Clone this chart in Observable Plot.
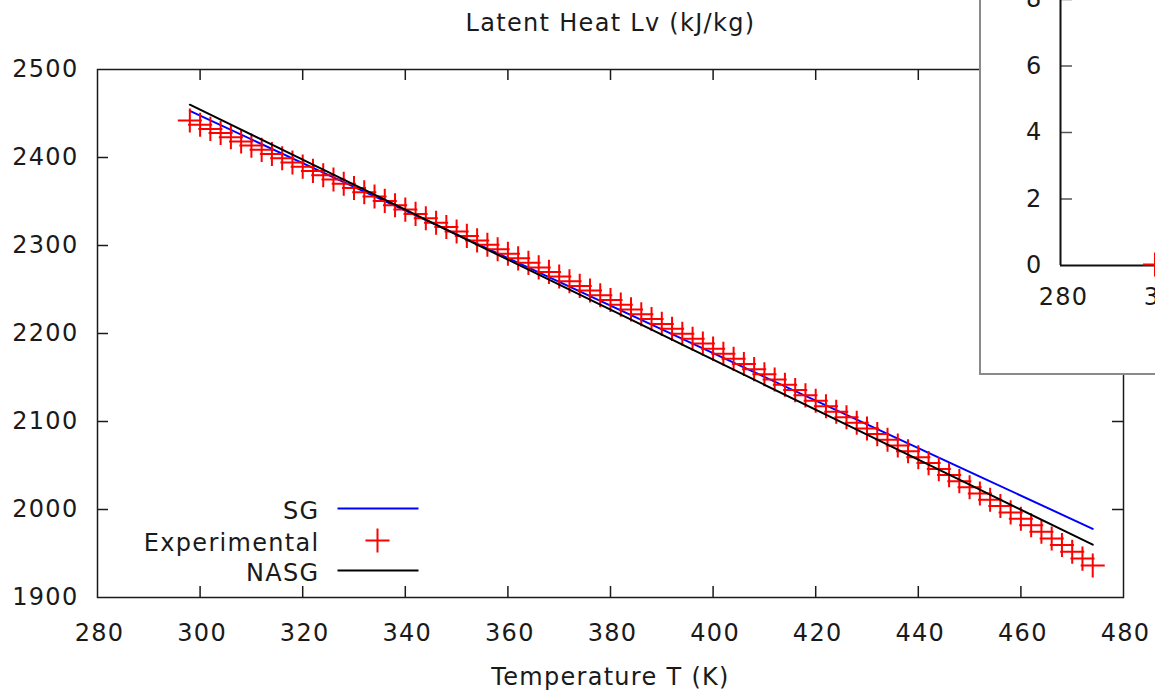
<!DOCTYPE html>
<html><head><meta charset="utf-8">
<script src="https://cdn.jsdelivr.net/npm/d3@7"></script>
<script src="https://cdn.jsdelivr.net/npm/@observablehq/plot@0.6"></script>
<style>
html,body{margin:0;padding:0;overflow:hidden;background:#fff;width:1155px;height:690px;}
#main{position:absolute;left:0;top:0;}
#inset{position:absolute;left:979px;top:-200px;width:400px;height:575px;box-sizing:border-box;border:2px solid #8a8a8a;background:#fff;}
</style></head><body>
<div id="main"></div><div id="inset"></div>
<script>
// ---- data ----
const temps = [298,300,302,304,306,308,310,312,314,316,318,320,322,324,326,328,330,332,334,336,338,340,342,344,346,348,350,352,354,356,358,360,362,364,366,368,370,372,374,376,378,380,382,384,386,388,390,392,394,396,398,400,402,404,406,408,410,412,414,416,418,420,422,424,426,428,430,432,434,436,438,440,442,444,446,448,450,452,454,456,458,460,462,464,466,468,470,472,474];
const experimental = [2442.1,2437.3,2432.5,2427.8,2423.0,2418.3,2413.5,2408.7,2404.0,2399.2,2394.4,2389.6,2384.8,2379.9,2375.0,2370.2,2365.3,2360.5,2355.6,2350.7,2345.8,2340.8,2335.9,2330.9,2325.9,2321.0,2315.9,2310.9,2305.8,2300.8,2295.7,2290.6,2285.4,2280.3,2275.1,2270.0,2264.7,2259.4,2254.1,2248.8,2243.5,2238.1,2232.8,2227.4,2221.9,2216.4,2210.9,2205.3,2199.7,2194.1,2188.5,2182.8,2177.0,2171.2,2165.4,2159.5,2153.6,2147.7,2141.7,2135.7,2129.7,2123.5,2117.3,2111.1,2104.8,2098.5,2092.1,2085.7,2079.2,2072.7,2066.1,2059.4,2052.7,2045.9,2039.1,2032.2,2025.2,2018.2,2011.1,2003.9,1996.7,1989.4,1982.1,1974.7,1967.1,1959.6,1951.9,1944.2,1936.4];
const modelT = [298,320,342,364,386,408,430,452,474];
const sg = [2453,2393.6,2334.3,2274.9,2215.5,2156.1,2096.8,2037.4,1978];
const nasg = [2460,2397.5,2335,2272.5,2210,2147.5,2085,2022.5,1960];
const xTicks = [280,300,320,340,360,380,400,420,440,460,480];
const yTicks = [1900,2000,2100,2200,2300,2400,2500];
const legendLabels = ["SG","Experimental","NASG"];
const titleText = "Latent Heat Lv (kJ/kg)";
const xLabel = "Temperature T (K)";
// inset (mostly outside the window)
const insetT = [298];
const insetP = [0.03];
const insetXTicks = [280,300,320,340];
const insetYTicks = [0,2,4,6,8,10,12];

// ---- layout ----
const W=1155,H=690,mL=97,mR=32,mT=69,mB=93;
const pw=W-mL-mR, ph=H-mT-mB;
const ink="#1a1a1a";
const font="DejaVu Sans";
const tl=11;
const crossR=7.8;
const fmt=d=>String(d);
const expData=temps.map((t,i)=>({t,v:experimental[i]}));
const sgData=modelT.map((t,i)=>({t,v:sg[i]}));
const nasgData=modelT.map((t,i)=>({t,v:nasg[i]}));
const lineSym={draw(c){c.moveTo(-40.5,0);c.lineTo(40.5,0);}};
const txt={fontSize:24,fill:ink,text:d=>d};
const svgStyle={fontFamily:font,fontSize:"24px",color:ink,background:"#fff",letterSpacing:"1.3px",overflow:"visible"};

const main=Plot.plot({
  width:W,height:H,marginLeft:mL,marginRight:mR,marginTop:mT,marginBottom:mB,
  style:svgStyle,
  x:{domain:[280,480],label:null},
  y:{domain:[1900,2500],label:null},
  marks:[
    Plot.line(sgData,{x:"t",y:"v",stroke:"#0000ff",strokeWidth:2}),
    Plot.dot(expData,{x:"t",y:"v",symbol:"plus",r:crossR,stroke:"#ff0000",strokeWidth:2}),
    Plot.line(nasgData,{x:"t",y:"v",stroke:"#000",strokeWidth:2}),
    Plot.tickX(xTicks.slice(1,-1),{x:d=>d,insetTop:ph-tl,stroke:ink,strokeWidth:1.5}),
    Plot.tickX(xTicks.slice(1,-1),{x:d=>d,insetBottom:ph-tl,stroke:ink,strokeWidth:1.5}),
    Plot.tickY(yTicks.slice(1,-1),{y:d=>d,insetRight:pw-tl,stroke:ink,strokeWidth:1.5}),
    Plot.tickY(yTicks.slice(1,-1),{y:d=>d,insetLeft:pw-tl,stroke:ink,strokeWidth:1.5}),
    Plot.frame({stroke:ink,strokeWidth:1.5}),
    Plot.axisX(xTicks,{tickSize:0,tickPadding:26,fontSize:24,fill:ink,label:null,dx:2,tickFormat:fmt}),
    Plot.axisY(yTicks,{tickSize:0,tickPadding:19,fontSize:24,fill:ink,label:null,tickFormat:fmt}),
    Plot.text([titleText],{...txt,frameAnchor:"top",dy:-46,lineAnchor:"middle"}),
    Plot.text([xLabel],{...txt,frameAnchor:"bottom",dy:80,lineAnchor:"middle"}),
    Plot.text([legendLabels[0]],{...txt,frameAnchor:"bottom-left",dx:222,dy:-86.5,textAnchor:"end",lineAnchor:"middle"}),
    Plot.text([legendLabels[1]],{...txt,frameAnchor:"bottom-left",dx:222,dy:-54.5,textAnchor:"end",lineAnchor:"middle"}),
    Plot.text([legendLabels[2]],{...txt,frameAnchor:"bottom-left",dx:222,dy:-24.5,textAnchor:"end",lineAnchor:"middle"}),
    Plot.dot([0],{frameAnchor:"bottom-left",dx:280.5,dy:-89,symbol:lineSym,stroke:"#0000ff",strokeWidth:2}),
    Plot.dot([0],{frameAnchor:"bottom-left",dx:280,dy:-57,symbol:"plus",r:crossR,stroke:"#ff0000",strokeWidth:2}),
    Plot.dot([0],{frameAnchor:"bottom-left",dx:280.5,dy:-27,symbol:lineSym,stroke:"#000",strokeWidth:2})
  ]
});
document.getElementById("main").appendChild(main);

// inset
const iW=396,iH=571,iL=79,iB=108,iT=64,iR=2;
const ipw=iW-iL-iR, iph=iH-iT-iB;
const inset=Plot.plot({
  width:iW,height:iH,marginLeft:iL,marginRight:iR,marginTop:iT,marginBottom:iB,
  style:svgStyle,
  x:{domain:[280,340],label:null},
  y:{domain:[0,12],label:null},
  marks:[
    Plot.tickY(insetYTicks.slice(1),{y:d=>d,insetRight:ipw-12,stroke:"#555",strokeWidth:1.5}),
    Plot.tickX(insetXTicks.slice(1),{x:d=>d,insetTop:iph-12,stroke:"#555",strokeWidth:1.5}),
    Plot.ruleX([280],{stroke:"#111",strokeWidth:2}),
    Plot.ruleY([0],{stroke:"#111",strokeWidth:2}),
    Plot.dot(insetT.map((t,i)=>({t,p:insetP[i]})),{x:"t",y:"p",symbol:"plus",r:crossR,stroke:"#ff0000",strokeWidth:2}),
    Plot.axisX(insetXTicks,{tickSize:0,tickPadding:22,fontSize:24,fill:ink,label:null,dx:3,tickFormat:fmt}),
    Plot.axisY(insetYTicks,{tickSize:0,tickPadding:18,fontSize:24,fill:ink,label:null,tickFormat:fmt})
  ]
});
document.getElementById("inset").appendChild(inset);
</script>
</body></html>
